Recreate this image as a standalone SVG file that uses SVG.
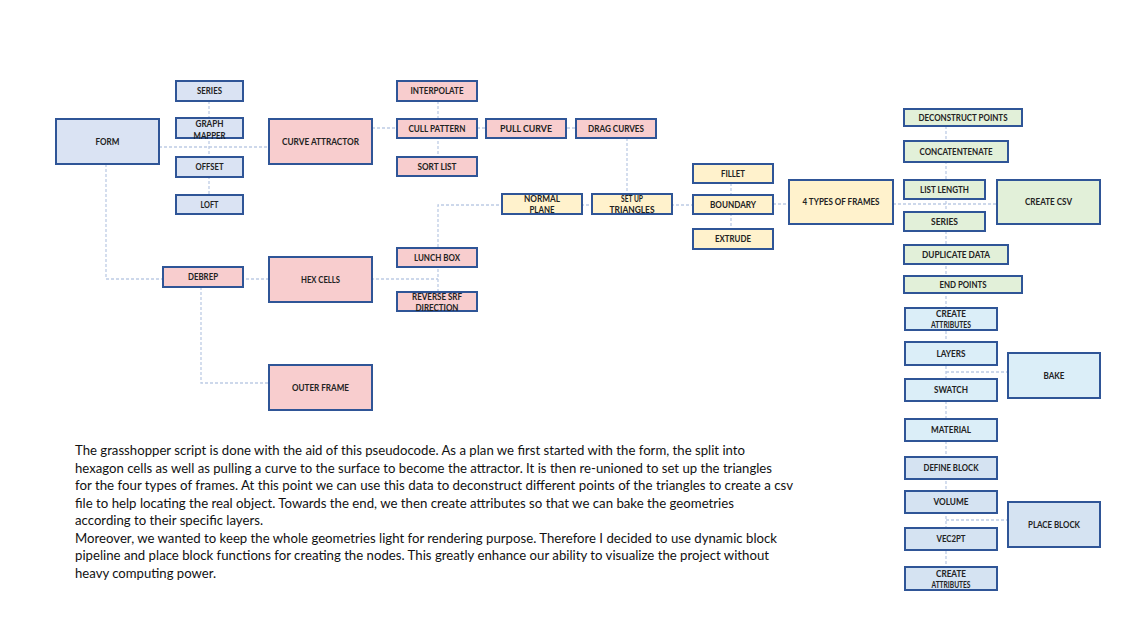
<svg xmlns="http://www.w3.org/2000/svg" width="1133" height="637" viewBox="0 0 1133 637">
<style>
.n{stroke:#2F5597;stroke-width:2}
.bl{fill:#DAE3F3}.pk{fill:#F8CDCE}.yl{fill:#FFF2CC}.gr{fill:#E2F0D9}.cy{fill:#DBEEF8}.b2{fill:#D5E3F2}
.t{font-family:Lato,"Open Sans","Liberation Sans",sans-serif;font-weight:bold;font-size:9.3px;fill:#222;text-anchor:middle}
.c{fill:none;stroke:#BDCCE5;stroke-width:1.3;stroke-dasharray:3 2}
.p{font-family:Lato,"Open Sans","Liberation Sans",sans-serif;font-size:13.3px;fill:#111}
</style>
<rect width="1133" height="637" fill="#fff"/>
<g id="connectors">
<path class="c" d="M159 147H269"/>
<path class="c" d="M209 101V195"/>
<path class="c" d="M106 164V279H438"/>
<path class="c" d="M438 292V205H693"/>
<path class="c" d="M773 204H997"/>
<path class="c" d="M438 101V157"/>
<path class="c" d="M372 128H576"/>
<path class="c" d="M627 138V194"/>
<path class="c" d="M731 183V229"/>
<path class="c" d="M201 287V383H269"/>
<path class="c" d="M946 126V567"/>
<path class="c" d="M946 372H1008"/>
<path class="c" d="M946 520H1008"/>
</g>
<g id="form"><rect class="n bl" x="56" y="119" width="103" height="45"/><text class="t" x="107.5" y="144.8" textLength="24" lengthAdjust="spacingAndGlyphs">FORM</text></g>
<g id="series1"><rect class="n bl" x="176" y="81" width="67" height="20"/><text class="t" x="209.5" y="94.3" textLength="25" lengthAdjust="spacingAndGlyphs">SERIES</text></g>
<g id="graph-mapper"><rect class="n bl" x="176" y="118" width="67" height="20"/><text class="t" x="209.5" y="127.3" textLength="28" lengthAdjust="spacingAndGlyphs">GRAPH</text><text class="t" x="209.5" y="139" textLength="32" lengthAdjust="spacingAndGlyphs">MAPPER</text></g>
<g id="offset"><rect class="n bl" x="176" y="157" width="67" height="20"/><text class="t" x="209.5" y="170.3" textLength="28" lengthAdjust="spacingAndGlyphs">OFFSET</text></g>
<g id="loft"><rect class="n bl" x="176" y="195" width="67" height="19"/><text class="t" x="209.5" y="207.8" textLength="18" lengthAdjust="spacingAndGlyphs">LOFT</text></g>
<g id="curve-attractor"><rect class="n pk" x="269" y="119" width="103" height="45"/><text class="t" x="320.5" y="144.8" textLength="77" lengthAdjust="spacingAndGlyphs">CURVE ATTRACTOR</text></g>
<g id="interpolate"><rect class="n pk" x="397" y="81" width="80" height="20"/><text class="t" x="437" y="94.3" textLength="53" lengthAdjust="spacingAndGlyphs">INTERPOLATE</text></g>
<g id="cull-pattern"><rect class="n pk" x="397" y="119" width="80" height="19"/><text class="t" x="437" y="131.8" textLength="57" lengthAdjust="spacingAndGlyphs">CULL PATTERN</text></g>
<g id="sort-list"><rect class="n pk" x="397" y="157" width="80" height="19"/><text class="t" x="437" y="169.8" textLength="39" lengthAdjust="spacingAndGlyphs">SORT LIST</text></g>
<g id="pull-curve"><rect class="n pk" x="486" y="119" width="80" height="19"/><text class="t" x="526" y="131.8" textLength="52" lengthAdjust="spacingAndGlyphs">PULL CURVE</text></g>
<g id="drag-curves"><rect class="n pk" x="576" y="119" width="80" height="19"/><text class="t" x="616" y="131.8" textLength="56" lengthAdjust="spacingAndGlyphs">DRAG CURVES</text></g>
<g id="debrep"><rect class="n pk" x="163" y="267" width="80" height="20"/><text class="t" x="203" y="280.3" textLength="30" lengthAdjust="spacingAndGlyphs">DEBREP</text></g>
<g id="hex-cells"><rect class="n pk" x="269" y="257" width="103" height="45"/><text class="t" x="320.5" y="282.8" textLength="39" lengthAdjust="spacingAndGlyphs">HEX CELLS</text></g>
<g id="lunch-box"><rect class="n pk" x="397" y="248" width="80" height="19"/><text class="t" x="437" y="260.8" textLength="46" lengthAdjust="spacingAndGlyphs">LUNCH BOX</text></g>
<g id="reverse-srf"><rect class="n pk" x="397" y="292" width="80" height="19"/><text class="t" x="437" y="300" textLength="50" lengthAdjust="spacingAndGlyphs">REVERSE SRF</text><text class="t" x="437" y="311" textLength="43" lengthAdjust="spacingAndGlyphs">DIRECTION</text></g>
<g id="outer-frame"><rect class="n pk" x="269" y="365" width="103" height="45"/><text class="t" x="320.5" y="390.8" textLength="57" lengthAdjust="spacingAndGlyphs">OUTER FRAME</text></g>
<g id="normal-plane"><rect class="n yl" x="502" y="194" width="80" height="20"/><text class="t" x="542" y="201.6" textLength="36" lengthAdjust="spacingAndGlyphs">NORMAL</text><text class="t" x="542" y="212.6" textLength="25" lengthAdjust="spacingAndGlyphs">PLANE</text></g>
<g id="set-up-triangles"><rect class="n yl" x="592" y="194" width="80" height="20"/><text class="t" x="632" y="201.6" textLength="22" lengthAdjust="spacingAndGlyphs">SET UP</text><text class="t" x="632" y="212.6" textLength="45" lengthAdjust="spacingAndGlyphs">TRIANGLES</text></g>
<g id="fillet"><rect class="n yl" x="693" y="164" width="80" height="19"/><text class="t" x="733" y="176.8" textLength="24" lengthAdjust="spacingAndGlyphs">FILLET</text></g>
<g id="boundary"><rect class="n yl" x="693" y="195" width="80" height="19"/><text class="t" x="733" y="207.8" textLength="46" lengthAdjust="spacingAndGlyphs">BOUNDARY</text></g>
<g id="extrude"><rect class="n yl" x="693" y="229" width="80" height="20"/><text class="t" x="733" y="242.3" textLength="36" lengthAdjust="spacingAndGlyphs">EXTRUDE</text></g>
<g id="four-types"><rect class="n yl" x="789" y="180" width="104" height="44"/><text class="t" x="841" y="205.3" textLength="77" lengthAdjust="spacingAndGlyphs">4 TYPES OF FRAMES</text></g>
<g id="deconstruct-points"><rect class="n gr" x="904" y="109" width="118" height="17"/><text class="t" x="963" y="120.8" textLength="89" lengthAdjust="spacingAndGlyphs">DECONSTRUCT POINTS</text></g>
<g id="concatentenate"><rect class="n gr" x="904" y="141" width="104" height="21"/><text class="t" x="956" y="154.8" textLength="73" lengthAdjust="spacingAndGlyphs">CONCATENTENATE</text></g>
<g id="list-length"><rect class="n gr" x="904" y="180" width="81" height="19"/><text class="t" x="944.5" y="192.8" textLength="49" lengthAdjust="spacingAndGlyphs">LIST LENGTH</text></g>
<g id="series2"><rect class="n gr" x="904" y="212" width="81" height="19"/><text class="t" x="944.5" y="224.8" textLength="27" lengthAdjust="spacingAndGlyphs">SERIES</text></g>
<g id="duplicate-data"><rect class="n gr" x="904" y="245" width="104" height="19"/><text class="t" x="956" y="257.8" textLength="68" lengthAdjust="spacingAndGlyphs">DUPLICATE DATA</text></g>
<g id="end-points"><rect class="n gr" x="904" y="276" width="118" height="17"/><text class="t" x="963" y="287.8" textLength="47" lengthAdjust="spacingAndGlyphs">END POINTS</text></g>
<g id="create-csv"><rect class="n gr" x="997" y="180" width="103" height="44"/><text class="t" x="1048.5" y="205.3" textLength="47" lengthAdjust="spacingAndGlyphs">CREATE CSV</text></g>
<g id="create-attributes1"><rect class="n cy" x="905" y="308" width="92" height="22"/><text class="t" x="951" y="317.3" textLength="30" lengthAdjust="spacingAndGlyphs">CREATE</text><text class="t" x="951" y="327.6" textLength="40" lengthAdjust="spacingAndGlyphs">ATTRIBUTES</text></g>
<g id="layers"><rect class="n cy" x="905" y="342" width="92" height="23"/><text class="t" x="951" y="356.8" textLength="29" lengthAdjust="spacingAndGlyphs">LAYERS</text></g>
<g id="swatch"><rect class="n cy" x="905" y="379" width="92" height="22"/><text class="t" x="951" y="393.3" textLength="34" lengthAdjust="spacingAndGlyphs">SWATCH</text></g>
<g id="material"><rect class="n cy" x="905" y="419" width="92" height="22"/><text class="t" x="951" y="433.3" textLength="40" lengthAdjust="spacingAndGlyphs">MATERIAL</text></g>
<g id="bake"><rect class="n cy" x="1008" y="353" width="92" height="45"/><text class="t" x="1054" y="378.8" textLength="21" lengthAdjust="spacingAndGlyphs">BAKE</text></g>
<g id="define-block"><rect class="n b2" x="905" y="457" width="92" height="22"/><text class="t" x="951" y="471.3" textLength="55" lengthAdjust="spacingAndGlyphs">DEFINE BLOCK</text></g>
<g id="volume"><rect class="n b2" x="905" y="491" width="92" height="22"/><text class="t" x="951" y="505.3" textLength="35" lengthAdjust="spacingAndGlyphs">VOLUME</text></g>
<g id="vec2pt"><rect class="n b2" x="905" y="528" width="92" height="22"/><text class="t" x="951" y="542.3" textLength="29" lengthAdjust="spacingAndGlyphs">VEC2PT</text></g>
<g id="create-attributes2"><rect class="n b2" x="905" y="567" width="92" height="23"/><text class="t" x="951" y="576.6" textLength="30" lengthAdjust="spacingAndGlyphs">CREATE</text><text class="t" x="951" y="588.3" textLength="39" lengthAdjust="spacingAndGlyphs">ATTRIBUTES</text></g>
<g id="place-block"><rect class="n b2" x="1008" y="502" width="92" height="45"/><text class="t" x="1054" y="527.8" textLength="52" lengthAdjust="spacingAndGlyphs">PLACE BLOCK</text></g>
<g id="description">
<text class="p" x="75" y="455" textLength="670" lengthAdjust="spacingAndGlyphs">The grasshopper script is done with the aid of this pseudocode. As a plan we first started with the form, the split into</text>
<text class="p" x="75" y="472.5" textLength="697" lengthAdjust="spacingAndGlyphs">hexagon cells as well as pulling a curve to the surface to become the attractor. It is then re-unioned to set up the triangles</text>
<text class="p" x="75" y="490" textLength="718" lengthAdjust="spacingAndGlyphs">for the four types of frames. At this point we can use this data to deconstruct different points of the triangles to create a csv</text>
<text class="p" x="75" y="507.5" textLength="659" lengthAdjust="spacingAndGlyphs">file to help locating the real object. Towards the end, we then create attributes so that we can bake the geometries</text>
<text class="p" x="75" y="525" textLength="188" lengthAdjust="spacingAndGlyphs">according to their specific layers.</text>
<text class="p" x="75" y="542.5" textLength="702" lengthAdjust="spacingAndGlyphs">Moreover, we wanted to keep the whole geometries light for rendering purpose. Therefore I decided to use dynamic block</text>
<text class="p" x="75" y="560" textLength="694" lengthAdjust="spacingAndGlyphs">pipeline and place block functions for creating the nodes. This greatly enhance our ability to visualize the project without</text>
<text class="p" x="75" y="577.5" textLength="141" lengthAdjust="spacingAndGlyphs">heavy computing power.</text>
</g>
</svg>
